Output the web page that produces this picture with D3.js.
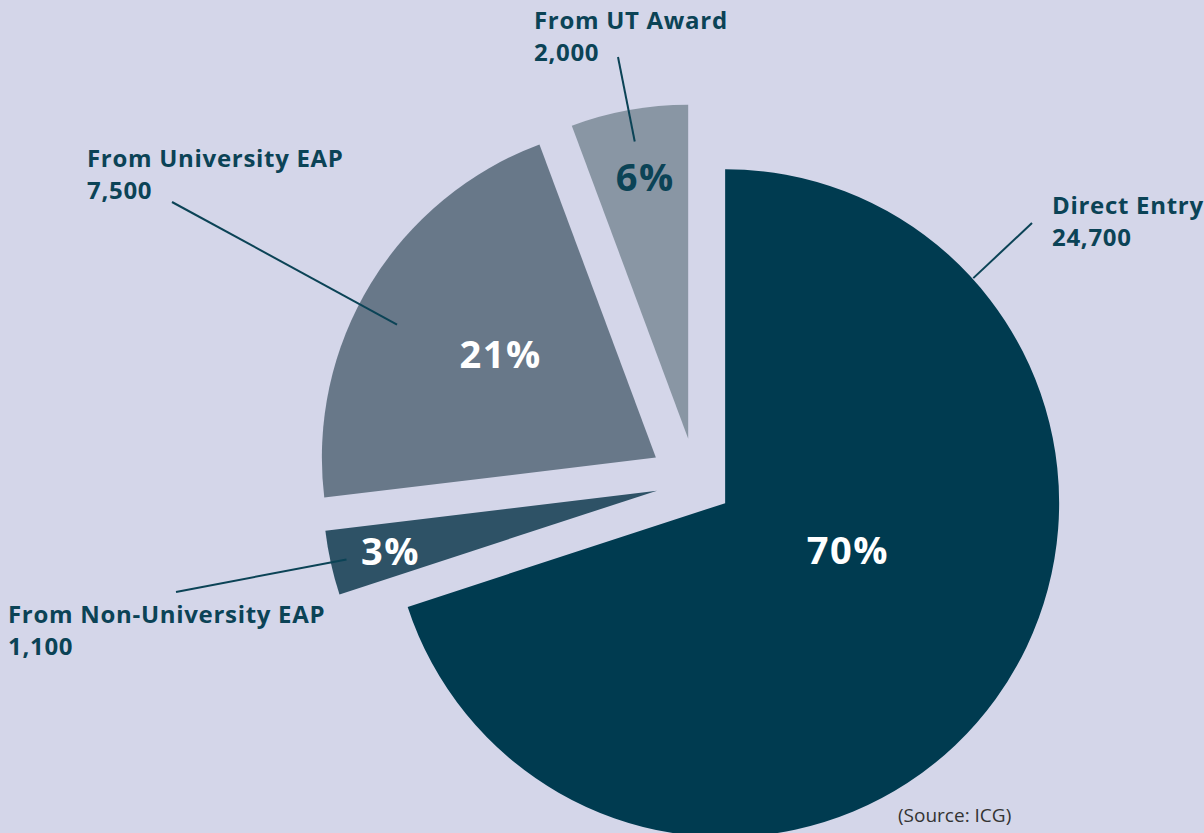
<!DOCTYPE html>
<html>
<head>
<meta charset="utf-8">
<script src="https://cdn.jsdelivr.net/npm/d3@7"></script>
<style>
  html, body { margin: 0; padding: 0; background: #d4d6e9; }
  svg { display: block; }
  text { font-family: "Open Sans", "Noto Sans", sans-serif; }
</style>
</head>
<body>
<svg id="chart" width="1204" height="833"></svg>
<script>
// Entry pathways (student numbers)
const categories = ["Direct Entry", "From Non-University EAP", "From University EAP", "From UT Award"];
const students = [24700, 1100, 7500, 2000];
const sourceNote = "(Source: ICG)";

// Slice styling
const sliceColors = ["#003b50", "#2e5266", "#687889", "#8996a4"];
const pctColors = ["#ffffff", "#ffffff", "#ffffff", "#0b4356"];

// Layout: pie centre, radius, per-slice explode distance and label placement
const W = 1204, H = 833;
const centre = [696, 482];
const radius = 334;
const explode = [36, 40, 47, 44];
// percentage label: angle (deg, clockwise from 12 o'clock; null = slice middle) and distance from slice tip
const pctPos = [[110.5, 131], [null, 273], [303.9, 187], [350.7, 266]];
// leader line: inner end (angle, distance from slice tip), outer end point
const leaderInner = [[47.8, 335], [null, 318], [297.2, 291], [null, 302]];
const leaderOuter = [[1032, 223], [176, 592], [172, 202], [618, 57]];
// category label anchor (left x, first baseline)
const labelPos = [[1052, 214], [8, 623], [87, 167], [534, 29]];

const svg = d3.select("#chart");
svg.append("rect").attr("width", W).attr("height", H).attr("fill", "#d4d6e9");

const total = d3.sum(students);
const pie = d3.pie().sort(null).value(d => d)(students);
const arc = d3.arc().innerRadius(0).outerRadius(radius);
const pctFmt = v => Math.round(v / total * 100) + "%";
const numFmt = d3.format(",");

const toRad = deg => deg * Math.PI / 180;
const polar = (a, r) => [Math.sin(a) * r, -Math.cos(a) * r];

// tip (apex) of an exploded slice
const tipOf = (d, i) => {
  const mid = (d.startAngle + d.endAngle) / 2;
  const [dx, dy] = polar(mid, explode[i]);
  return [centre[0] + dx, centre[1] + dy];
};

svg.append("g").selectAll("path")
  .data(pie)
  .join("path")
  .attr("transform", (d, i) => `translate(${tipOf(d, i)})`)
  .attr("d", arc)
  .attr("fill", (d, i) => sliceColors[i]);

// leader lines
svg.append("g").selectAll("line")
  .data(pie)
  .join("line")
  .each(function (d, i) {
    const tip = tipOf(d, i);
    const mid = (d.startAngle + d.endAngle) / 2;
    const a = leaderInner[i][0] == null ? mid : toRad(leaderInner[i][0]);
    const [px, py] = polar(a, leaderInner[i][1]);
    d3.select(this)
      .attr("x1", leaderOuter[i][0]).attr("y1", leaderOuter[i][1])
      .attr("x2", tip[0] + px).attr("y2", tip[1] + py);
  })
  .attr("stroke", "#0b4356")
  .attr("stroke-width", 2);

// percentage labels
svg.append("g").selectAll("text")
  .data(pie)
  .join("text")
  .each(function (d, i) {
    const tip = tipOf(d, i);
    const mid = (d.startAngle + d.endAngle) / 2;
    const a = pctPos[i][0] == null ? mid : toRad(pctPos[i][0]);
    const [px, py] = polar(a, pctPos[i][1]);
    d3.select(this).attr("x", tip[0] + px).attr("y", tip[1] + py);
  })
  .attr("text-anchor", "middle")
  .attr("dominant-baseline", "central")
  .attr("font-size", 38)
  .attr("letter-spacing", 1.5)
  .attr("font-weight", 700)
  .attr("fill", (d, i) => pctColors[i])
  .text(d => pctFmt(d.value));

// category + count labels
const lab = svg.append("g").selectAll("text")
  .data(pie)
  .join("text")
  .attr("x", (d, i) => labelPos[i][0])
  .attr("y", (d, i) => labelPos[i][1])
  .attr("font-size", 24)
  .attr("letter-spacing", 0.7)
  .attr("font-weight", 700)
  .attr("fill", "#0b4356");
lab.append("tspan").text((d, i) => categories[i]);
lab.append("tspan")
  .attr("x", (d, i) => labelPos[i][0])
  .attr("dy", 32)
  .text(d => numFmt(d.value));

svg.append("text")
  .attr("x", 898).attr("y", 822)
  .attr("font-size", 19)
  .attr("fill", "#333333")
  .text(sourceNote);
</script>
</body>
</html>
